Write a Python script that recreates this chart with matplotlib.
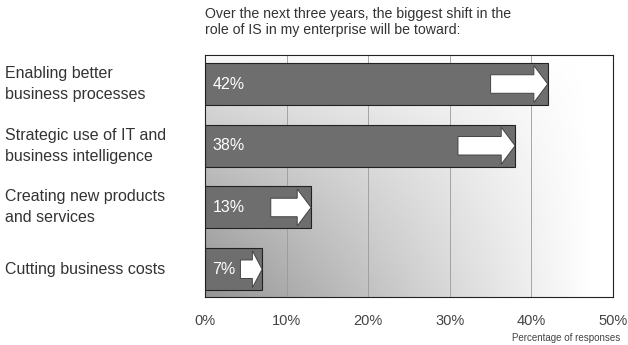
import matplotlib
matplotlib.use("Agg")
import matplotlib.pyplot as plt
import numpy as np
from matplotlib.patches import FancyArrow

plt.rcParams["font.family"] = ["Liberation Sans", "DejaVu Sans"]

CATEGORIES = [
    "Enabling better\nbusiness processes",
    "Strategic use of IT and\nbusiness intelligence",
    "Creating new products\nand services",
    "Cutting business costs",
]
VALUES = [42, 38, 13, 7]
TICKS = [0, 10, 20, 30, 40, 50]
TICK_LABELS = ["0%", "10%", "20%", "30%", "40%", "50%"]
TITLE = "Over the next three years, the biggest shift in the\nrole of IS in my enterprise will be toward:"
XLABEL = "Percentage of responses"

BAR_COLOR = "#6e6e6e"
TEXT_COLOR = "#333333"

fig = plt.figure(figsize=(6.28, 3.45), dpi=100)
ax = fig.add_axes([205 / 628, 48 / 345, 408 / 628, 242 / 345])

# diagonal grey wash: darkest bottom-left, white toward top-right
gx, gy = np.meshgrid(np.linspace(0, 1, 300), np.linspace(0, 1, 200))
dark = 0.42 * np.clip(1 - gx * 1.05, 0, 1) * np.clip(gy, 0, 1) ** 0.6
shade = 1 - dark
ax.imshow(shade, cmap="gray", vmin=0, vmax=1, extent=[0, 50, 3.45, -0.47],
          aspect="auto", zorder=0, interpolation="bilinear")

ax.set_xlim(0, 50)
ax.set_ylim(3.45, -0.47)
for t in TICKS[1:-1]:
    ax.axvline(t, color="#999999", lw=0.6, zorder=1)

y = np.arange(len(CATEGORIES))
ax.barh(y, VALUES, height=0.68, color=BAR_COLOR, edgecolor="#222222",
        linewidth=0.8, zorder=2)

for yi, v in zip(y, VALUES):
    ax.text(0.9, yi, f"{v}%", color="white", fontsize=11.5, va="center",
            ha="left", zorder=4)
    alen = min(7.0, v * 0.38)
    ax.add_patch(FancyArrow(v - alen, yi, alen, 0, width=0.3, head_width=0.6,
                            head_length=min(1.7, alen * 0.45),
                            length_includes_head=True, facecolor="white",
                            edgecolor="#444444", linewidth=0.7, zorder=3))

ax.set_yticks(y)
ax.set_yticklabels([])
# category labels sit flush with the left edge of the figure
for yi, c in zip(y, CATEGORIES):
    ax.annotate(c, xy=(5 / 628, yi), xycoords=("figure fraction", "data"),
                fontsize=11.5, color=TEXT_COLOR, ha="left", va="center",
                linespacing=1.5)

ax.set_xticks(TICKS)
ax.set_xticklabels(TICK_LABELS, fontsize=10.5, color="#444444")
ax.tick_params(axis="both", length=0, pad=12)
for s in ax.spines.values():
    s.set_color("#222222")
    s.set_linewidth(0.8)

fig.text(205 / 628, 1 - 7 / 345, TITLE, fontsize=10.2, color=TEXT_COLOR,
         ha="left", va="top", linespacing=1.2)
fig.text(620 / 628, 1 - 338 / 345, XLABEL, fontsize=7, color="#444444",
         ha="right", va="center")

fig.savefig("out.png", dpi=100)
